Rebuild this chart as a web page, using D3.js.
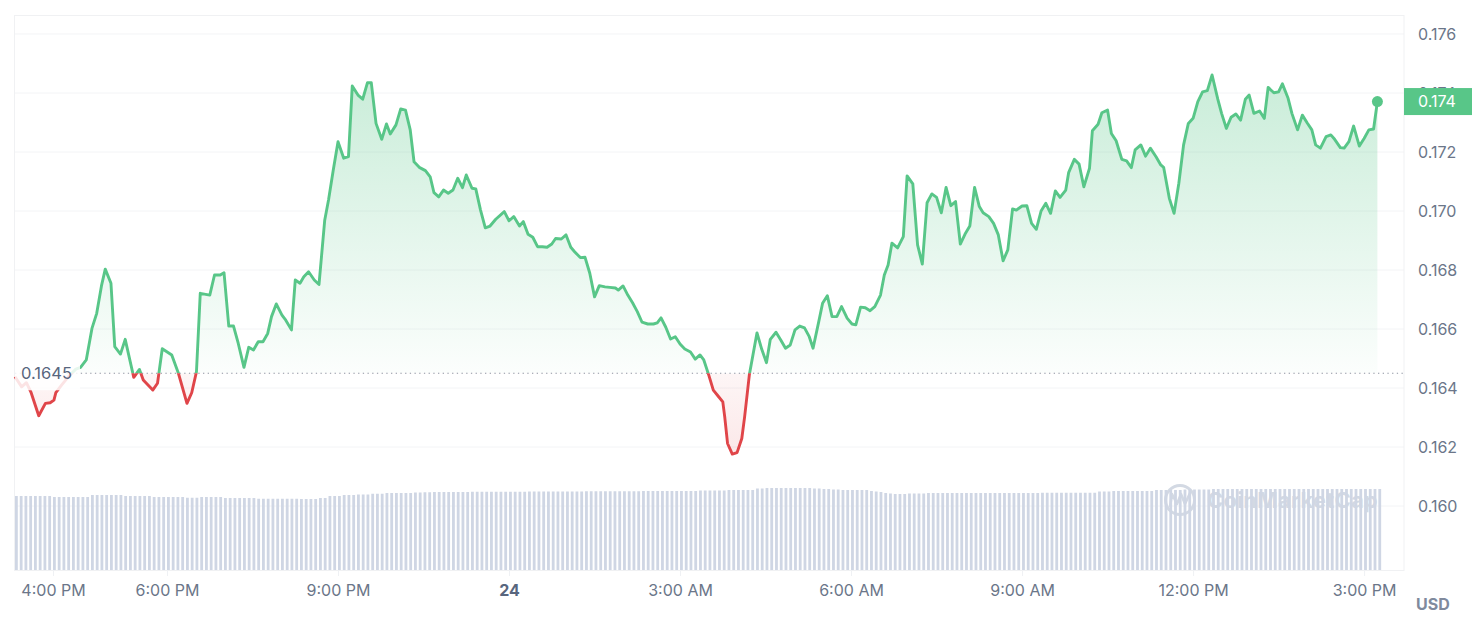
<!DOCTYPE html>
<html><head><meta charset="utf-8">
<script src="https://cdn.jsdelivr.net/npm/d3@7"></script>
<style>body{margin:0;background:#fff;font-family:Inter,"Noto Sans",sans-serif}</style>
</head><body>
<svg id="c" width="1480" height="632"></svg>
<script>
// ---------- data ----------
const startTime = new Date(2024, 4, 23, 15, 20);   // first sample, 3:20 PM on the 23rd
const endTime = new Date(2024, 4, 24, 15, 42);     // right edge of the time axis
const minutes = [0,7,12,17,25,32,37,41,43,49,57,64,69,75,81,86,91,95,101,105,111,116,125,131,135,140,145,150,155,165,172,181,186,191,195,205,210,216,220,225,230,235,241,246,251,256,261,266,270,275,281,285,291,295,300,304,309,315,320,326,330,335,340,346,351,355,361,366,371,375,380,386,391,395,401,406,411,416,420,426,432,437,441,446,451,456,461,466,471,475,481,485,490,495,500,506,515,520,525,531,535,540,545,550,555,560,565,569,575,580,585,589,595,600,605,610,615,621,626,632,635,640,645,650,655,660,666,672,676,680,685,690,695,700,705,711,716,721,725,730,735,740,745,747,750,755,760,765,768,773,781,786,791,795,801,806,811,816,821,826,831,836,840,846,850,855,860,865,870,876,881,885,890,895,900,905,911,915,919,923,929,935,939,945,950,955,960,965,970,975,980,985,990,995,1000,1005,1010,1015,1019,1025,1030,1035,1040,1045,1050,1054,1060,1065,1070,1075,1080,1085,1090,1095,1100,1106,1109,1115,1120,1125,1131,1134,1140,1144,1150,1154,1159,1165,1170,1175,1179,1185,1190,1195,1201,1206,1209,1215,1220,1225,1230,1235,1240,1245,1250,1255,1260,1266,1270,1275,1280,1285,1290,1295,1299,1304,1310,1315,1319,1325,1330,1334,1340,1344,1350,1355,1360,1365,1369,1374,1380,1385,1389,1395,1399,1404,1409,1415,1420,1425,1430,1434];
const prices = [0.16438,0.16404,0.16418,0.16384,0.16306,0.16348,0.16350,0.16359,0.16384,0.16410,
0.16441,0.16464,0.16470,0.16495,0.16602,0.16653,0.16746,0.16803,0.16755,0.16540,
0.16515,0.16565,0.16436,0.16463,0.16427,0.16410,0.16393,0.16416,0.16533,0.16512,
0.16450,0.16348,0.16384,0.16455,0.16721,0.16715,0.16783,0.16783,0.16791,0.16610,
0.16610,0.16551,0.16470,0.16538,0.16529,0.16557,0.16557,0.16585,0.16642,0.16685,
0.16647,0.16630,0.16597,0.16766,0.16755,0.16777,0.16794,0.16766,0.16751,0.16969,
0.17037,0.17139,0.17235,0.17179,0.17184,0.17424,0.17393,0.17379,0.17435,0.17435,
0.17297,0.17243,0.17295,0.17261,0.17292,0.17346,0.17342,0.17275,0.17167,0.17147,
0.17137,0.17116,0.17062,0.17048,0.17071,0.17060,0.17071,0.17111,0.17079,0.17122,
0.17077,0.17075,0.17003,0.16943,0.16949,0.16972,0.16998,0.16967,0.16981,0.16949,
0.16964,0.16921,0.16911,0.16879,0.16879,0.16877,0.16888,0.16907,0.16905,0.16919,
0.16877,0.16862,0.16842,0.16843,0.16789,0.16709,0.16747,0.16743,0.16741,0.16739,
0.16732,0.16746,0.16715,0.16689,0.16659,0.16623,0.16617,0.16617,0.16621,0.16638,
0.16606,0.16566,0.16574,0.16549,0.16532,0.16522,0.16498,0.16512,0.16495,0.16446,
0.16393,0.16373,0.16353,0.16303,0.16212,0.16176,0.16181,0.16229,0.16303,0.16446,
0.16587,0.16531,0.16486,0.16565,0.16589,0.16563,0.16535,0.16546,0.16597,0.16610,
0.16604,0.16574,0.16535,0.16625,0.16687,0.16713,0.16642,0.16642,0.16676,0.16636,
0.16617,0.16614,0.16674,0.16672,0.16662,0.16676,0.16715,0.16783,0.16817,0.16891,
0.16875,0.16913,0.17119,0.17092,0.16885,0.16820,0.17028,0.17058,0.17046,0.16994,
0.17080,0.17018,0.17032,0.16888,0.16922,0.16949,0.17080,0.17015,0.16994,0.16981,
0.16958,0.16919,0.16831,0.16868,0.17007,0.17003,0.17017,0.17018,0.16958,0.16938,
0.17000,0.17026,0.16992,0.17068,0.17046,0.17071,0.17130,0.17175,0.17159,0.17082,
0.17145,0.17272,0.17294,0.17333,0.17342,0.17263,0.17238,0.17175,0.17170,0.17147,
0.17207,0.17224,0.17186,0.17213,0.17184,0.17156,0.17148,0.17043,0.16992,0.17094,
0.17224,0.17297,0.17314,0.17371,0.17404,0.17408,0.17461,0.17379,0.17331,0.17280,
0.17318,0.17329,0.17308,0.17379,0.17393,0.17331,0.17339,0.17314,0.17419,0.17401,
0.17404,0.17431,0.17382,0.17331,0.17275,0.17325,0.17299,0.17275,0.17224,0.17213,
0.17252,0.17258,0.17243,0.17215,0.17213,0.17235,0.17288,0.17220,0.17246,0.17275,
0.17278,0.17371];
// volume, one bar per 5 minutes (arbitrary units, millions)
const volumeStepMinutes = 5;
const volumes = [
296,296,296,296,296,296,296,296,292,292,292,292,
292,292,292,292,300,300,300,300,300,300,300,296,
296,296,296,296,296,292,292,292,292,292,292,292,
289,289,289,292,292,292,292,292,288,288,288,288,
288,288,288,285,285,285,285,285,285,285,285,285,
284,284,284,284,288,288,296,296,296,300,300,300,
302,302,302,305,305,305,308,308,308,308,308,308,
310,310,311,311,312,312,312,312,312,312,312,312,
313,313,313,313,313,313,313,313,313,313,313,313,
314,314,314,314,314,314,314,314,314,314,314,314,
315,315,315,315,315,315,315,315,315,315,315,315,
316,316,316,316,316,316,316,316,316,316,316,316,
318,318,318,318,318,318,320,320,320,320,320,320,
326,326,328,328,328,328,328,328,328,328,328,328,
326,326,324,324,322,322,320,320,320,320,320,320,
316,314,312,308,306,304,304,304,306,306,306,306,
308,308,308,308,308,308,308,308,308,308,308,308,
308,308,308,308,308,308,308,308,308,308,308,308,
309,309,309,309,309,309,309,309,309,309,309,309,
314,314,314,316,316,316,316,316,316,316,316,316,
320,320,320,320,320,320,322,322,322,322,322,322,
324,324,324,324,324,324,324,324,324,324,324,324,
324,324,324,324,324,324,324,324,324,324,324,324,
324,324,324,324,324,324,324,324,324,324,324,324];
const baselinePrice = 0.1645;
const baselineLabel = "0.1645";
const yTicks = [0.160, 0.162, 0.164, 0.166, 0.168, 0.170, 0.172, 0.174, 0.176];
const xTickHours = [16, 18, 21, 24, 27, 30, 33, 36, 39];   // hours after midnight of the 23rd
const xTickLabels = ["4:00 PM", "6:00 PM", "9:00 PM", "24", "3:00 AM", "6:00 AM", "9:00 AM", "12:00 PM", "3:00 PM"];
const lastPriceLabel = "0.174";
const currencyLabel = "USD";
const watermarkText = "CoinMarketCap";

// ---------- layout ----------
const L = 15, R = 1404, T = 15, B = 570;
const GREEN = "#58c688", RED = "#e04549", TXT = "#6b7689";
const FONT = 16;

const svg = d3.select("#c");
const defs = svg.append("defs");

const x = d3.scaleTime().domain([startTime, endTime]).range([L, R]);
const y = d3.scaleLinear().domain([0.157831, 0.176644]).range([B, T]);
const yv = d3.scaleLinear().domain([0, 400]).range([B, B - 100]);

const data = minutes.map((m, i) => ({t: new Date(+startTime + m * 60000), p: prices[i]}));
const yBase = y(baselinePrice);

// gradients
const gUp = defs.append("linearGradient").attr("id", "gUp").attr("gradientUnits", "userSpaceOnUse")
  .attr("x1", 0).attr("x2", 0).attr("y1", y(0.1745)).attr("y2", yBase);
gUp.append("stop").attr("offset", 0).attr("stop-color", GREEN).attr("stop-opacity", 0.32);
gUp.append("stop").attr("offset", 1).attr("stop-color", GREEN).attr("stop-opacity", 0.02);
const gDn = defs.append("linearGradient").attr("id", "gDn").attr("gradientUnits", "userSpaceOnUse")
  .attr("x1", 0).attr("x2", 0).attr("y1", yBase).attr("y2", y(0.1615));
gDn.append("stop").attr("offset", 0).attr("stop-color", RED).attr("stop-opacity", 0.05);
gDn.append("stop").attr("offset", 1).attr("stop-color", RED).attr("stop-opacity", 0.13);

defs.append("clipPath").attr("id", "cUp").append("rect")
  .attr("x", L - 5).attr("y", T - 20).attr("width", R - L + 10).attr("height", yBase - T + 20);
defs.append("clipPath").attr("id", "cDn").append("rect")
  .attr("x", L - 5).attr("y", yBase).attr("width", R - L + 10).attr("height", B - yBase + 20);

// grid lines
svg.append("g").selectAll("line").data(yTicks).join("line")
  .attr("x1", L).attr("x2", R).attr("y1", d => y(d)).attr("y2", d => y(d))
  .attr("stroke", "#f3f4f6").attr("stroke-width", 1);

// frame
svg.append("rect").attr("x", L - 0.5).attr("y", T + 0.5).attr("width", R - L + 0.5).attr("height", B - T)
  .attr("fill", "none").attr("stroke", "#f0f1f3").attr("stroke-width", 1);

// watermark (behind volume)
const wm = svg.append("g").attr("fill", "none").attr("stroke", "#d3d9e3");
wm.append("circle").attr("cx", 1180).attr("cy", 500).attr("r", 14.5).attr("stroke-width", 3);
wm.append("path").attr("d", "M1170,507 L1172,494 L1177,504 L1181,494 L1185,504 L1190,493")
  .attr("stroke-width", 2.6).attr("stroke-linejoin", "round");
svg.append("text").attr("x", 1207).attr("y", 508).attr("font-size", 22).attr("font-weight", 700)
  .attr("fill", "#d3d9e3").attr("letter-spacing", 0.2).text(watermarkText);

// volume bars
svg.append("g").selectAll("rect").data(volumes).join("rect")
  .attr("x", (d, i) => x(new Date(+startTime + i * volumeStepMinutes * 60000)))
  .attr("width", 2.8)
  .attr("y", d => yv(d))
  .attr("height", d => B - yv(d))
  .attr("fill", "#cfd6e4");

// areas
const area = d3.area().x(d => x(d.t)).y0(yBase).y1(d => y(d.p));
svg.append("path").datum(data).attr("d", area).attr("fill", "url(#gUp)").attr("clip-path", "url(#cUp)");
svg.append("path").datum(data).attr("d", area).attr("fill", "url(#gDn)").attr("clip-path", "url(#cDn)");

// baseline dotted
svg.append("line").attr("x1", L).attr("x2", R).attr("y1", yBase).attr("y2", yBase)
  .attr("stroke", "#8e95a2").attr("stroke-width", 1.2).attr("stroke-dasharray", "1.3 3.4");

// lines
const line = d3.line().x(d => x(d.t)).y(d => y(d.p));
svg.append("path").datum(data).attr("d", line).attr("fill", "none").attr("stroke", GREEN)
  .attr("stroke-width", 2.9).attr("stroke-linejoin", "round").attr("clip-path", "url(#cUp)");
svg.append("path").datum(data).attr("d", line).attr("fill", "none").attr("stroke", RED)
  .attr("stroke-width", 2.9).attr("stroke-linejoin", "round").attr("clip-path", "url(#cDn)");

// baseline label
svg.append("rect").attr("x", L).attr("y", yBase - 11).attr("width", 65).attr("height", 28)
  .attr("fill", "#fff").attr("opacity", 0.85);
svg.append("text").attr("x", 21).attr("y", yBase).attr("dy", "0.36em").attr("font-size", 16.5)
  .attr("fill", "#58667e").text(baselineLabel);

// end dot
const last = data[data.length - 1];
svg.append("circle").attr("cx", x(last.t)).attr("cy", y(last.p)).attr("r", 5.5).attr("fill", GREEN);

// y labels
svg.append("g").selectAll("text").data(yTicks).join("text")
  .attr("x", 1418).attr("y", d => y(d)).attr("dy", "0.36em")
  .attr("font-size", FONT).attr("fill", TXT).text(d => d.toFixed(3));

// price tag
svg.append("rect").attr("x", R).attr("y", y(last.p) - 13.5).attr("width", 68).attr("height", 27).attr("fill", GREEN);
svg.append("text").attr("x", 1418).attr("y", y(last.p)).attr("dy", "0.36em").attr("font-size", FONT)
  .attr("fill", "#fff").text(lastPriceLabel);

// x axis
const tickDates = xTickHours.map(h => new Date(2024, 4, 23, h, 0));
const xAxis = d3.axisBottom(x).tickValues(tickDates).tickFormat((d, i) => xTickLabels[i])
  .tickSize(6).tickPadding(9);
const gx = svg.append("g").attr("transform", `translate(0,${B})`).call(xAxis);
gx.select(".domain").remove();
gx.selectAll(".tick line").attr("stroke", "#eff1f4");
gx.selectAll(".tick text").attr("font-size", FONT).attr("font-family", "Inter, 'Noto Sans', sans-serif")
  .attr("font-weight", (d, i) => xTickLabels[i] === "24" ? 700 : 400)
  .attr("fill", (d, i) => xTickLabels[i] === "24" ? "#58667e" : TXT);

// currency label
svg.append("text").attr("x", 1416).attr("y", 604).attr("dy", "0.36em").attr("font-size", FONT)
  .attr("font-weight", 700).attr("fill", "#808a9d").text(currencyLabel);
</script>
</body></html>
